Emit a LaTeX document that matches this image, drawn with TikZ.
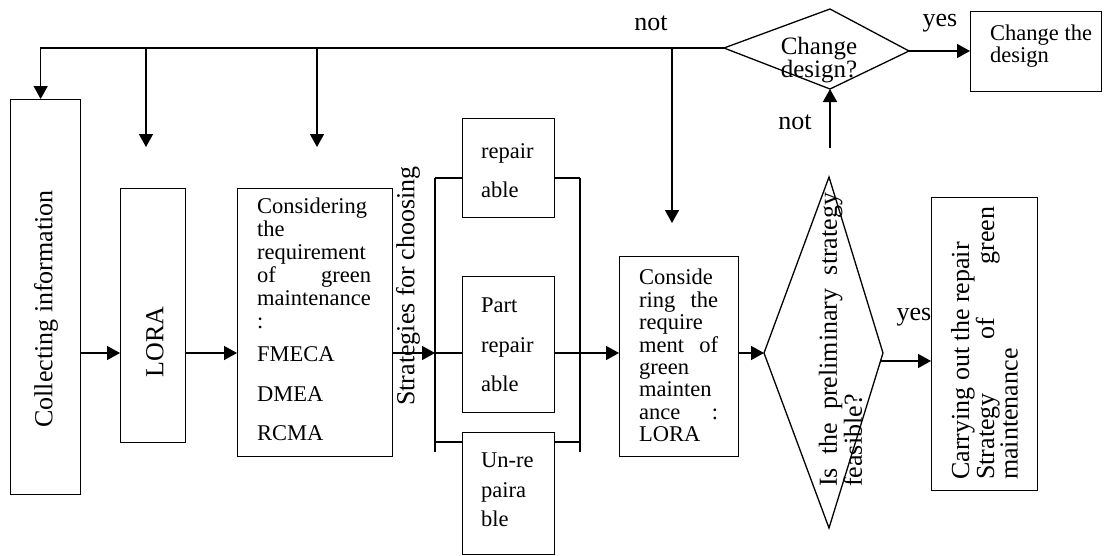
\documentclass[tikz,border=0pt]{standalone}
\usepackage{fontspec}
\setmainfont{Liberation Serif}
\usetikzlibrary{arrows.meta}
\begin{document}
\begin{tikzpicture}[x=1pt,y=-1pt,
  box/.style={draw, line width=1.3pt, inner sep=0pt, anchor=north west},
  ln/.style={line width=1.5pt},
  arr/.style={line width=1.5pt, -{Triangle[length=13pt,width=14pt]}},
  lbl/.style={font=\fontsize{26}{26}\selectfont, inner sep=0pt},
  rot/.style={rotate=90, font=\fontsize{26}{23.5}\selectfont, inner sep=0pt, align=left},
  txt/.style={font=\fontsize{22.5}{22.5}\selectfont, inner sep=0pt, align=left, anchor=north west},
]
\useasboundingbox (0,0) rectangle (1104,555);
\fill[white] (0,0) rectangle (1104,555);

% boxes
\node[box, minimum width=70pt, minimum height=395pt] (coll) at (10,99) {};
\node[box, minimum width=65pt, minimum height=254pt] (lora) at (120,188) {};
\node[box, minimum width=155pt, minimum height=268pt] (cons) at (237,188) {};
\node[box, minimum width=92pt, minimum height=99pt] (rep) at (462,118) {};
\node[box, minimum width=92pt, minimum height=136pt] (part) at (462,276) {};
\node[box, minimum width=92pt, minimum height=122pt] (unrep) at (462,432) {};
\node[box, minimum width=119pt, minimum height=200pt] (cons2) at (619,256) {};
\node[box, minimum width=106pt, minimum height=293pt] (carry) at (931,197) {};
\node[box, minimum width=131pt, minimum height=80pt] (chg) at (970,11) {};

% diamonds
\coordinate (dL) at (764,353); \coordinate (dT) at (829,177);
\coordinate (dR) at (883,353); \coordinate (dB) at (829,528);
\draw[line width=1.3pt] (dL) -- (dT) -- (dR) -- (dB) -- cycle;
\coordinate (cL) at (724,48); \coordinate (cT) at (830,9);
\coordinate (cR) at (909,51); \coordinate (cB) at (830,89);
\draw[line width=1.3pt] (cL) -- (cT) -- (cR) -- (cB) -- cycle;

% main flow
\coordinate (m) at (0,353);
\draw[arr] (coll.east |- m) -- (lora.west |- m);
\draw[arr] (lora.east |- m) -- (cons.west |- m);
\coordinate (bl) at (435,353); \coordinate (br) at (580,353);
\draw[arr] (cons.east |- m) -- (bl);
\coordinate (blt) at (435,178); \coordinate (blb) at (435,452);
\coordinate (brt) at (580,178); \coordinate (brb) at (580,452);
\draw[ln] (blt) -- (blb);
\draw[ln] (brt) -- (brb);
\draw[ln] (blt) -- (rep.west |- blt);
\draw[ln] (rep.east |- brt) -- (brt);
\draw[ln] (bl) -- (part.west |- bl);
\draw[ln] (part.east |- br) -- (br);
\coordinate (u) at (0,442);
\draw[ln] (blt |- u) -- (unrep.west |- u);
\draw[ln] (unrep.east |- u) -- (brt |- u);
\draw[arr] (br) -- (cons2.west |- m);
\draw[arr] (cons2.east |- m) -- (dL);
\coordinate (dRo) at (880.5,361);
\draw[arr] (dRo) -- (carry.west |- dRo);
\coordinate (up) at (830,148);
\draw[arr] (up) -- (cB);
\draw[arr] (cR) -- (chg.west |- cR);

% feedback line
\draw[arr] (cL) -| ([xshift=-5pt]coll.north);
\coordinate (t1) at (146,48); \coordinate (a1) at (146,147);
\coordinate (t2) at (317,48); \coordinate (a2) at (317,147);
\coordinate (t3) at (672,48); \coordinate (a3) at (672,223);
\draw[arr] (t1) -- (a1);
\draw[arr] (t2) -- (a2);
\draw[arr] (t3) -- (a3);

% texts
\node[rot, anchor=center] (tcoll) at (46,309) {Collecting information};
\node[rot, anchor=center] (tlora) at (155,342) {LORA};
\node[rot, anchor=center] (tstrat) at (408,286) {Strategies for choosing};
\node[txt, font=\fontsize{22.5}{23}\selectfont] (tcons) at (257,198) {Considering\\the\\requirement\\\hbox to 114pt{of\hfill green}\\maintenance\\:\\[10pt]FMECA\\[17pt]DMEA\\[16pt]RCMA};
\node[txt, font=\fontsize{22.5}{22.4}\selectfont] (tcons2) at (639,269) {Conside\\\hbox to 79pt{ring\hfill the}\\require\\\hbox to 79pt{ment\hfill of}\\green\\mainten\\\hbox to 79pt{ance\hfill :}\\LORA};
\node[txt] (trep) at (481,143) {repair\\[16.5pt]able};
\node[txt] (tpart) at (481,298) {Part\\[17pt]repair\\[17pt]able};
\node[txt] (tunrep) at (481,453) {Un-re\\[7pt]paira\\[7pt]ble};
\node[txt, font=\fontsize{22.5}{22}\selectfont] (tchg) at (990,25) {Change the\\design};
\node[inner sep=0pt, align=center, anchor=north, font=\fontsize{25}{23}\selectfont] (tcd) at (819,37) {Change\\design?};
\node[rot, anchor=west, font=\fontsize{26}{21}\selectfont] (tfeas) at (840.5,487) {\hbox to 294pt{Is\hfill the\hfill preliminary\hfill strategy}\\feasible?};
\node[rot, anchor=west] (tcarry) at (984.5,480) {Carrying out the repair\\\hbox to 273pt{Strategy\hfill of\hfill green}\\maintenance};

% labels
\node[lbl] (lnot1) at (651,23) {not};
\node[lbl] (lyes1) at (940,23) {yes};
\node[lbl] (lnot2) at (795,122) {not};
\node[lbl] (lyes2) at (914,317) {yes};
\end{tikzpicture}
\end{document}
